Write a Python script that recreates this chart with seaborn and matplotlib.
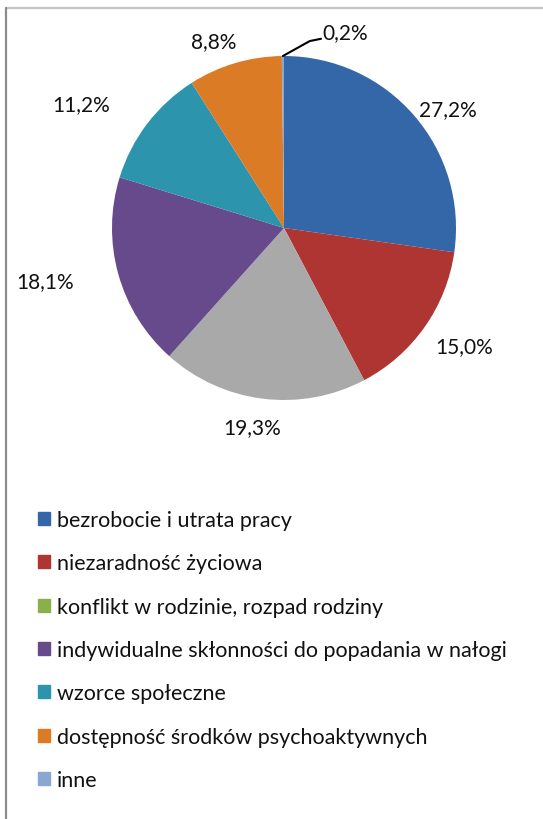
import matplotlib
matplotlib.use("Agg")
import matplotlib.pyplot as plt
import matplotlib.patches as mpatches
import numpy as np
import seaborn as sns

# slices, clockwise from 12 o'clock
CATEGORIES = [
    "bezrobocie i utrata pracy",
    "niezaradność życiowa",
    "konflikt w rodzinie, rozpad rodziny",
    "indywidualne skłonności do popadania w nałogi",
    "wzorce społeczne",
    "dostępność środków psychoaktywnych",
    "inne",
]
SHARES = [27.2, 15.0, 19.3, 18.1, 11.2, 8.8, 0.2]
LABELS = ["27,2%", "15,0%", "19,3%", "18,1%", "11,2%", "8,8%", "0,2%"]

SLICE_COLORS = ["#3467A8", "#AE3532", "#A9A9A9", "#674A8B", "#2D94AD", "#DC7B26", "#89A6D4"]
LEGEND_COLORS = ["#3467A8", "#AE3532", "#8BB04A", "#674A8B", "#2D94AD", "#DC7B26", "#89A6D4"]

# label placement (radius factor, angle nudge in degrees)
LABEL_R = [1.18, 1.25, 1.17, 1.42, 1.38, 1.16]
LABEL_DA = [-5, 2, -2, -3, 6, 4]


def main():
    sns.set_theme(style="white")
    plt.rcParams["font.family"] = ["Lato", "DejaVu Sans"]

    W, H = 543, 820
    fig = plt.figure(figsize=(W / 100, H / 100), dpi=100)
    fig.set_facecolor("white")

    cx, cy, R = 284, 229, 172
    half = 215
    ax = fig.add_axes([(cx - half) / W, (H - cy - half) / H, 2 * half / W, 2 * half / H])
    wedges, _ = ax.pie(
        SHARES,
        colors=SLICE_COLORS,
        startangle=90,
        counterclock=False,
        radius=1.0,
        wedgeprops=dict(linewidth=0),
    )
    ax.set_xlim(-half / R, half / R)
    ax.set_ylim(-half / R, half / R)
    ax.set_aspect("equal")
    ax.axis("off")

    fs = 15
    for i, w in enumerate(wedges[:-1]):
        ang = np.deg2rad((w.theta1 + w.theta2) / 2 + LABEL_DA[i])
        r = LABEL_R[i]
        ax.text(r * np.cos(ang), r * np.sin(ang), LABELS[i], ha="center", va="center",
                fontsize=fs, color="#111111")

    # tiny slice gets a leader line
    w = wedges[-1]
    ang = np.deg2rad((w.theta1 + w.theta2) / 2)
    x0, y0 = np.cos(ang), np.sin(ang)
    ax.plot([x0, 0.15, 0.215], [y0, 1.087, 1.10], color="black", lw=1.5, clip_on=False)
    ax.text(0.225, 1.14, LABELS[-1], ha="left", va="center", fontsize=fs, color="#111111")

    handles = [mpatches.Patch(color=c, label=l) for c, l in zip(LEGEND_COLORS, CATEGORIES)]
    fig.legend(
        handles=handles,
        loc="upper left",
        bbox_to_anchor=(38 / W, 1 - 511 / H),
        frameon=False,
        fontsize=15.5,
        handlelength=0.56,
        handleheight=0.56,
        handletextpad=0.3,
        labelspacing=1.085,
        borderpad=0,
        borderaxespad=0,
        labelcolor="#111111",
    )

    # chart frame (top and left edges visible)
    fig.add_artist(plt.Line2D([6 / W, 1], [1 - 8.5 / H, 1 - 8.5 / H], color="#c4c4c4", lw=1.6))
    fig.add_artist(plt.Line2D([6 / W, 6 / W], [0, 1 - 8.5 / H], color="#8c8c8c", lw=1.6))

    fig.savefig("out.png", dpi=100, facecolor="white")


if __name__ == "__main__":
    main()
